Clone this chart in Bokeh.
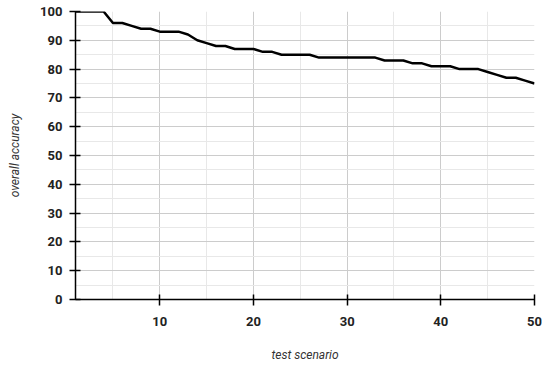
from bokeh.plotting import figure
from bokeh.models import FixedTicker, Range1d
from bokeh.embed import file_html
from bokeh.resources import INLINE

scenario = list(range(1, 51))
accuracy = [100, 100, 100, 100, 96, 96, 95, 94, 94, 93,
            93, 93, 92, 90, 89, 88, 88, 87, 87, 87,
            86, 86, 85, 85, 85, 85, 84, 84, 84, 84,
            84, 84, 84, 83, 83, 83, 82, 82, 81, 81,
            81, 80, 80, 80, 79, 78, 77, 77, 76, 75]
x_ticks = [10, 20, 30, 40, 50]
x_minor = [5, 15, 25, 35, 45]
y_ticks = [0, 10, 20, 30, 40, 50, 60, 70, 80, 90, 100]
y_minor = [5, 15, 25, 35, 45, 55, 65, 75, 85, 95]

p = figure(width=542, height=364, output_backend="svg", toolbar_location=None,
           x_range=Range1d(1, 50), y_range=Range1d(0, 100),
           min_border_left=75, min_border_right=8, min_border_top=11, min_border_bottom=64)
p.outline_line_color = None

p.line(scenario, accuracy, line_color="black", line_width=2.5)

p.xaxis.ticker = FixedTicker(ticks=x_ticks, minor_ticks=x_minor)
p.yaxis.ticker = FixedTicker(ticks=y_ticks, minor_ticks=y_minor)

for ax in (p.xaxis, p.yaxis):
    ax.axis_line_color = "black"
    ax.axis_line_width = 1.5
    ax.major_tick_line_color = "black"
    ax.major_tick_line_width = 1.5
    ax.major_tick_in = 5
    ax.major_tick_out = 6
    ax.minor_tick_in = 0
    ax.minor_tick_out = 0
    ax.major_label_text_font = "Roboto"
    ax.major_label_text_font_style = "bold"
    ax.major_label_text_font_size = "13px"
    ax.major_label_text_color = "#222222"
    ax.axis_label_text_font = "Roboto"
    ax.axis_label_text_font_style = "italic"
    ax.axis_label_text_font_size = "12px"
    ax.axis_label_text_color = "#333333"

p.xaxis.axis_label = "test scenario"
p.yaxis.axis_label = "overall accuracy"
p.xaxis.major_label_standoff = 11
p.yaxis.major_label_standoff = 7
p.xaxis.axis_label_standoff = 19
p.yaxis.axis_label_standoff = 15

for g in (p.xgrid, p.ygrid):
    g.grid_line_color = "#cccccc"
    g.grid_line_width = 1
    g.minor_grid_line_color = "#e8e8e8"
    g.minor_grid_line_width = 1

open("out.html", "w").write(file_html(p, INLINE))
